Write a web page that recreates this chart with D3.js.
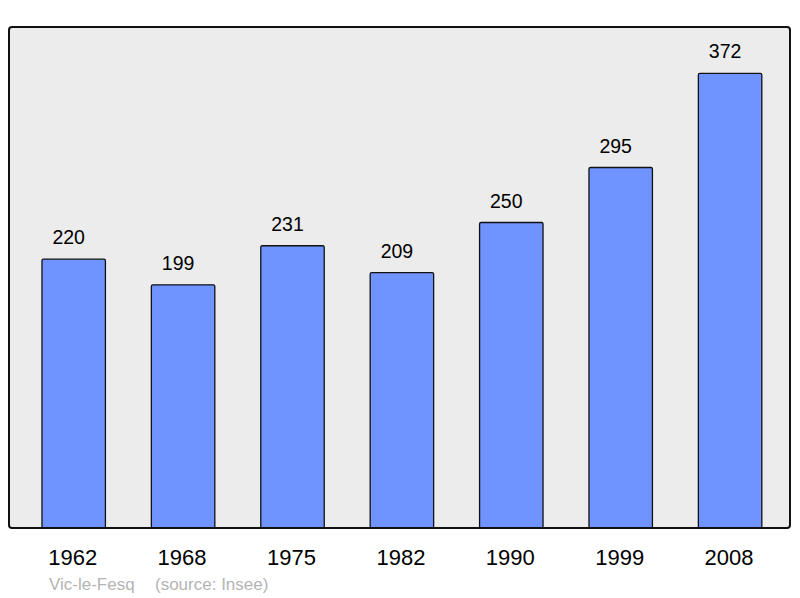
<!DOCTYPE html>
<html>
<head>
<meta charset="utf-8">
<script src="https://cdn.jsdelivr.net/npm/d3@7"></script>
<style>
  body { margin: 0; background: #fff; }
  svg { display: block; font-family: "Liberation Sans", Arial, sans-serif; }
</style>
</head>
<body>
<svg id="chart" width="800" height="598"></svg>
<script>
var years = ["1962", "1968", "1975", "1982", "1990", "1999", "2008"];
var population = [220, 199, 231, 209, 250, 295, 372];
var commune = "Vic-le-Fesq";
var source = "(source: Insee)";

var data = years.map((y, i) => ({year: y, value: population[i]}));

var panel = {left: 9, top: 27, right: 790, bottom: 528};

var chart = d3.select('#chart');

chart.append("rect")
    .attr("x", panel.left)
    .attr("y", panel.top)
    .attr("width", panel.right - panel.left)
    .attr("height", panel.bottom - panel.top)
    .attr("rx", 3)
    .attr("fill", "#ececec");

var x = d3.scaleBand()
    .domain(years)
    .range([19, 784.8])
    .paddingInner(0.42)
    .paddingOuter(0.21);

var y = d3.scaleLinear()
    .domain([0, 410])
    .range([panel.bottom, panel.top]);

// bars
chart.append("g")
    .selectAll("rect")
    .data(data)
    .enter()
    .append("rect")
        .attr("x", d => x(d.year))
        .attr("y", d => y(d.value))
        .attr("width", x.bandwidth())
        .attr("height", d => y(0) - y(d.value))
        .attr("rx", 1.5)
        .attr("fill", "#7094ff")
        .attr("stroke", "#111")
        .attr("stroke-width", 1.3);

// value labels (sit a little left of the bar centre, as in the original)
chart.append("g")
    .selectAll("text")
    .data(data)
    .enter()
    .append("text")
        .attr("x", d => x(d.year) + x.bandwidth() / 2 - 5)
        .attr("y", d => y(d.value) - 15)
        .attr("text-anchor", "middle")
        .attr("font-size", 19.5)
        .attr("fill", "#000")
        .text(d => d.value);

// panel border on top of bars
chart.append("rect")
    .attr("x", panel.left)
    .attr("y", panel.top)
    .attr("width", panel.right - panel.left)
    .attr("height", panel.bottom - panel.top)
    .attr("rx", 3)
    .attr("fill", "none")
    .attr("stroke", "#111")
    .attr("stroke-width", 2);

// year labels
chart.append("g")
    .selectAll("text")
    .data(years)
    .enter()
    .append("text")
        .attr("x", d => x(d) + x.bandwidth() / 2 - 1)
        .attr("y", 565)
        .attr("text-anchor", "middle")
        .attr("font-size", 22)
        .attr("fill", "#000")
        .text(d => d);

chart.append("text")
    .attr("x", 49)
    .attr("y", 590)
    .attr("font-size", 17)
    .attr("fill", "#b4b4b4")
    .text(commune);

chart.append("text")
    .attr("x", 155)
    .attr("y", 590)
    .attr("font-size", 17)
    .attr("fill", "#b4b4b4")
    .text(source);
</script>
</body>
</html>
